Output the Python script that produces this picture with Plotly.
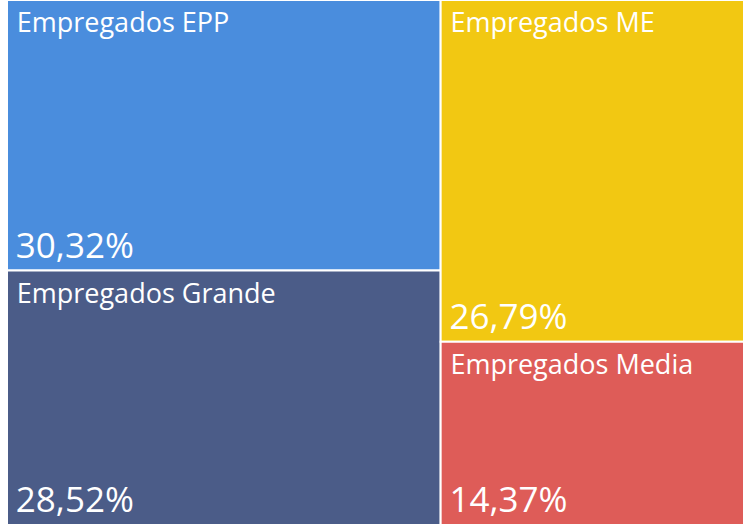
import plotly.graph_objects as go

labels = ["Empregados EPP", "Empregados Grande", "Empregados ME", "Empregados Media"]
values = [30.32, 28.52, 26.79, 14.37]
colors = ["#4A8DDD", "#4B5C88", "#F2C812", "#DE5C58"]
parents = [""] * len(labels)

fig = go.Figure()
fig.add_trace(go.Treemap(
    labels=labels, parents=parents, values=values,
    marker=dict(colors=colors, line=dict(color="white", width=2),
                pad=dict(t=0, l=0, r=0, b=0)),
    texttemplate="\u2005%{label}", textposition="top left",
    textfont=dict(family="Open Sans", size=27, color="white"),
    sort=True, tiling=dict(packing="squarify", pad=0),
    pathbar=dict(visible=False), hoverinfo="skip",
))
fig.add_trace(go.Treemap(
    labels=labels, parents=parents, values=values,
    marker=dict(colors=["rgba(0,0,0,0)"] * len(labels), line=dict(width=0),
                pad=dict(t=0, l=0, r=0, b=0)),
    texttemplate="\u2009%{value:.2f}%", textposition="bottom left",
    textfont=dict(family="Open Sans", size=35, color="white"),
    sort=True, tiling=dict(packing="squarify", pad=0),
    pathbar=dict(visible=False), hoverinfo="skip",
))
fig.update_layout(
    width=744, height=525, margin=dict(l=7, r=0, t=0, b=0),
    separators=",.", paper_bgcolor="white", showlegend=False,
)
fig.write_html("out.html")
